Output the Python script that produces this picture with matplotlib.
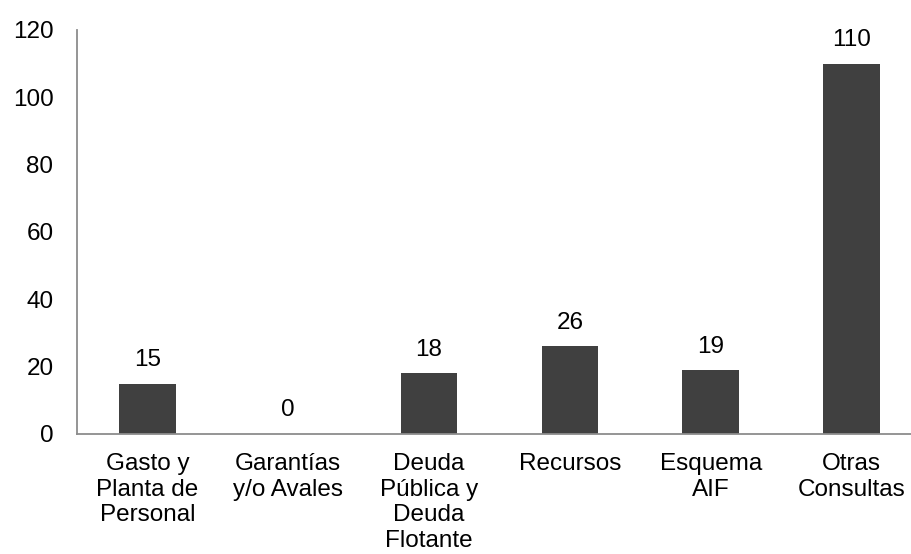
import matplotlib.pyplot as plt

categories = ["Gasto y\nPlanta de\nPersonal", "Garantías\ny/o Avales",
              "Deuda\nPública y\nDeuda\nFlotante", "Recursos",
              "Esquema\nAIF", "Otras\nConsultas"]
values = [15, 0, 18, 26, 19, 110]
yticks = [0, 20, 40, 60, 80, 100, 120]

plt.rcParams['font.family'] = ['Liberation Sans', 'DejaVu Sans']

fig = plt.figure(figsize=(9.12, 5.54), dpi=100)
ax = fig.add_axes([77 / 912, 120 / 554, 835 / 912, 404 / 554])

x = range(len(values))
ax.bar(x, values, width=0.40, color='#404040', zorder=2)
for xi, v in zip(x, values):
    ax.annotate(str(v), (xi, v), xytext=(0, 9), textcoords='offset points',
                ha='center', va='bottom', fontsize=17.5, color='black')

ax.set_xlim(-0.5, 5.43)
ax.set_ylim(0, 120)
ax.set_yticks(yticks)
ax.set_xticks(list(x))
ax.set_xticklabels(categories, fontsize=17.5, linespacing=1.2, va='top')
ax.tick_params(axis='y', length=0, pad=17, labelsize=17.5)
ax.tick_params(axis='x', length=0, pad=14)

for side in ['top', 'right']:
    ax.spines[side].set_visible(False)
for side in ['left', 'bottom']:
    ax.spines[side].set_color('#8c8c8c')
    ax.spines[side].set_linewidth(1.3)

fig.savefig('out.png', dpi=100)
